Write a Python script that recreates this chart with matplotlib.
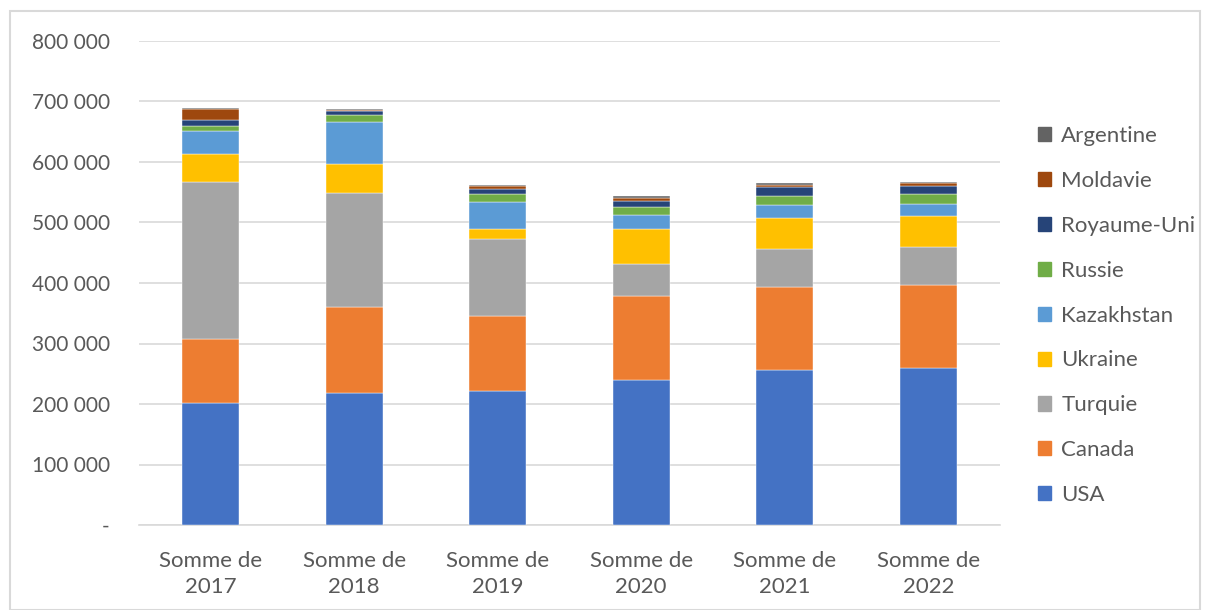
import matplotlib

matplotlib.use("Agg")

import matplotlib.pyplot as plt
import numpy as np
from matplotlib.patches import Patch, Rectangle
from matplotlib.ticker import FuncFormatter

plt.rcParams["font.family"] = ["Lato", "DejaVu Sans"]

years = ["2017", "2018", "2019", "2020", "2021", "2022"]
countries = ["USA", "Canada", "Turquie", "Ukraine", "Kazakhstan", "Russie",
             "Royaume-Uni", "Moldavie", "Argentine"]
colors = ["#4472C4", "#ED7D31", "#A5A5A5", "#FFC000", "#5B9BD5", "#70AD47",
          "#264478", "#9E480E", "#636363"]

usa = [202300, 217900, 221100, 240400, 256900, 260200]
canada = [104900, 142200, 124100, 137900, 136300, 135700]
turquie = [259700, 188600, 126800, 52400, 63400, 62800]
ukraine = [46800, 47400, 17700, 58700, 51300, 51300]
kazakhstan = [38100, 70600, 44600, 22300, 20400, 21000]
russie = [8200, 10400, 12700, 13900, 16000, 16100]
royaume_uni = [9500, 7200, 7800, 9200, 13700, 13700]
moldavie = [18200, 1100, 6000, 6000, 4500, 4500]
argentine = [1600, 2800, 1600, 2500, 2200, 1700]

series = [usa, canada, turquie, ukraine, kazakhstan, russie,
          royaume_uni, moldavie, argentine]

fig = plt.figure(figsize=(12.06, 6.10), dpi=100)
ax = fig.add_axes([139 / 1206, 1 - 525 / 610, 861 / 1206, 484 / 610])

x = np.arange(len(years))
bottom = np.zeros(len(years))
for vals, color in zip(series, colors):
    ax.bar(x, vals, 0.4, bottom=bottom, color=color,
           edgecolor="white", linewidth=0.3, zorder=3)
    bottom += np.array(vals)

ax.set_xlim(-0.5, len(years) - 0.5)
ax.set_ylim(0, 800000)
ax.set_yticks(np.arange(0, 800001, 100000))
ax.yaxis.set_major_formatter(FuncFormatter(
    lambda v, p: "-" if v == 0 else f"{int(v):,}".replace(",", " ")))
ax.set_xticks(x)
ax.set_xticklabels([f"Somme de\n{y}" for y in years], linespacing=1.35)
ax.tick_params(axis="both", length=0, colors="#595959")
ax.tick_params(axis="y", labelsize=15, pad=21)
ax.tick_params(axis="x", labelsize=16, pad=19)
for lab in ax.get_yticklabels():
    lab.set_horizontalalignment("right")

ax.grid(axis="y", color="#d9d9d9", linewidth=1.2, zorder=0)
ax.grid(axis="x", visible=False)
for side in ["top", "right", "left"]:
    ax.spines[side].set_visible(False)
ax.spines["bottom"].set_color("#d9d9d9")
ax.spines["bottom"].set_linewidth(1.2)

handles = [Patch(color=c, label=n) for n, c in zip(countries, colors)][::-1]
fig.legend(handles=handles, loc="upper left",
           bbox_to_anchor=(1018 / 1206, 1 - 106 / 610), frameon=False,
           fontsize=16, labelcolor="#595959", labelspacing=1.12,
           handlelength=0.6, handleheight=0.6, handletextpad=0.45)

fig.patches.append(Rectangle((10 / 1206, 0), 1190 / 1206, 1 - 11 / 610,
                             transform=fig.transFigure, fill=False,
                             edgecolor="#d9d9d9", linewidth=1.5))

fig.savefig("out.png", dpi=100)
